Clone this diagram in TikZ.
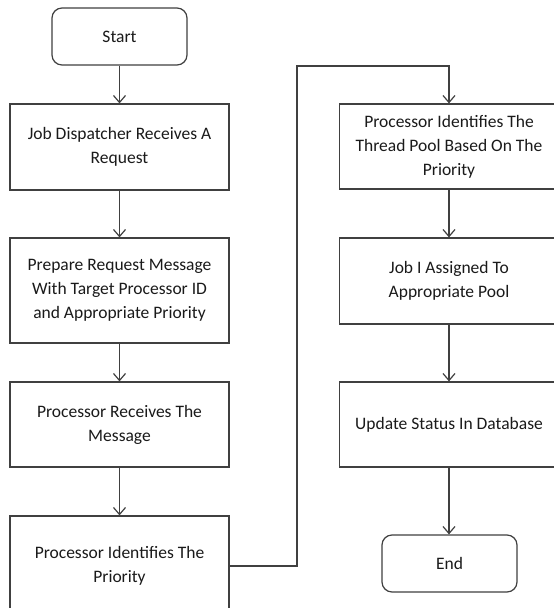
\documentclass[tikz,border=0pt]{standalone}
\usepackage{fontspec}
\setmainfont{Carlito}
\usetikzlibrary{arrows.meta}
\definecolor{linecol}{HTML}{404040}
\definecolor{txtcol}{HTML}{1A1A1A}
\tikzset{
  procbox/.style={draw=linecol, line width=1.2pt, minimum width=219pt, minimum height=86pt,
    align=center, inner sep=0pt, text=txtcol, font=\fontsize{17.5}{24}\selectfont},
  termbox/.style={procbox, rounded corners=10pt, minimum width=135pt, minimum height=57pt},
  arr/.style={draw=linecol, line width=1.2pt, -{Straight Barb[length=7pt,width=12pt]}}
}
\begin{document}
\begin{tikzpicture}[x=1pt,y=-1pt]
\useasboundingbox (0,0) rectangle (554,608);
\fill[white] (0,0) rectangle (554,608);
\clip (0,0) rectangle (554,608);
\node[termbox] (start) at (119.5,36.5) {Start};
\node[procbox] (b1) at (119.5,147) {Job Dispatcher Receives A\\Request};
\node[procbox, minimum height=105pt] (b2) at (119.5,290.5) {Prepare Request Message\\With Target Processor ID\\and Appropriate Priority};
\node[procbox, minimum height=85pt] (b3) at (119.5,424.5) {Processor Receives The\\Message};
\node[procbox, minimum height=100pt] (b4) at (119.5,566) {Processor Identifies The\\Priority};
\node[procbox, minimum height=85pt] (b5) at (449,146.5) {Processor Identifies The\\Thread Pool Based On The\\Priority};
\node[procbox] (b6) at (449,281) {Job I Assigned To\\Appropriate Pool};
\node[procbox, minimum height=85pt] (b7) at (449,424.5) {Update Status In Database};
\node[termbox] (end) at (449.5,563.5) {End};
\coordinate (r1) at (297,566);
\coordinate (r2) at (297,66);
\draw[arr] (start) -- (b1);
\draw[arr] (b1) -- (b2);
\draw[arr] (b2) -- (b3);
\draw[arr] (b3) -- (b4);
\draw[arr] (b4.east) -- (r1) -- (r2) -| (b5.north);
\draw[arr] (b5) -- (b6);
\draw[arr] (b6) -- (b7);
\draw[arr] (b7.south) -- (end.north -| b7.south);
\end{tikzpicture}
\end{document}
